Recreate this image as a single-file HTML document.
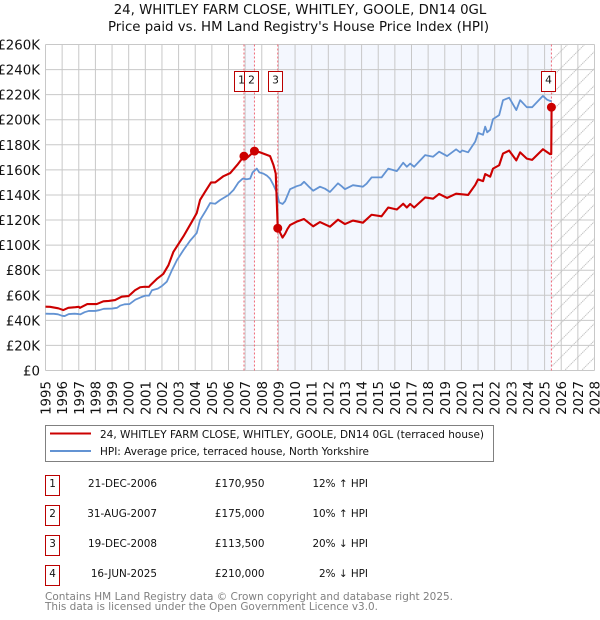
<!DOCTYPE html>
<html>
<head>
<meta charset="utf-8">
<title>24, WHITLEY FARM CLOSE - Price paid vs HPI</title>
<style>
html,body{margin:0;padding:0;background:#fff;width:600px;height:620px;overflow:hidden}
svg{display:block;font-family:"DejaVu Sans","Liberation Sans",sans-serif}
</style>
</head>
<body>
<svg id="chart" xmlns="http://www.w3.org/2000/svg" width="600" height="620" viewBox="0 0 600 620">
  <defs>
    <pattern id="hatch" width="17" height="17" patternUnits="userSpaceOnUse">
      <path d="M0 17L17 0M-2 2L2 -2M15 19L19 15" stroke="#c4c4c4" stroke-width="1" stroke-dasharray="1.4 0.6" fill="none"/>
    </pattern>
  </defs>
  <text x="300" y="14" text-anchor="middle" font-size="13.33" fill="#111">24, WHITLEY FARM CLOSE, WHITLEY, GOOLE, DN14 0GL</text>
  <text x="298.5" y="31" text-anchor="middle" font-size="13.33" fill="#111">Price paid vs. HM Land Registry's House Price Index (HPI)</text>
  <g id="shading"></g>
  <g id="grid"></g>
  <g id="yticks"></g>
  <g id="xticks"></g>
  <g id="saleLines"></g>
  <path id="hpiLine" fill="none" stroke="#6393d3" stroke-width="1.8" stroke-linejoin="round"></path>
  <path id="priceLine" fill="none" stroke="#cc0000" stroke-width="2.1" stroke-linejoin="round"></path>
  <g id="saleDots"></g>
  <g id="saleTags"></g>

  <g>
    <rect x="45.5" y="425.5" width="448" height="36" fill="#fff" stroke="#808080" stroke-width="1"/>
    <line x1="50" x2="91" y1="433.5" y2="433.5" stroke="#cc0000" stroke-width="2"/>
    <text x="100" y="438" font-size="10.67" fill="#111" textLength="384" lengthAdjust="spacingAndGlyphs">24, WHITLEY FARM CLOSE, WHITLEY, GOOLE, DN14 0GL (terraced house)</text>
    <line x1="50" x2="91" y1="451" y2="451" stroke="#6393d3" stroke-width="2"/>
    <text x="100" y="455" font-size="10.67" fill="#111" textLength="269" lengthAdjust="spacingAndGlyphs">HPI: Average price, terraced house, North Yorkshire</text>
  </g>

  <g font-size="10.4" fill="#111">
    <g>
      <rect x="45.5" y="475.5" width="14" height="20" fill="#fff" stroke="#bb0000"/>
      <text x="52.5" y="487" text-anchor="middle">1</text>
      <text x="157" y="487" text-anchor="end">21-DEC-2006</text>
      <text x="264.5" y="487" text-anchor="end">£170,950</text>
      <text x="368" y="487" text-anchor="end">12% ↑ HPI</text>
    </g>
    <g>
      <rect x="45.5" y="505.5" width="14" height="20" fill="#fff" stroke="#bb0000"/>
      <text x="52.5" y="517" text-anchor="middle">2</text>
      <text x="157" y="517" text-anchor="end">31-AUG-2007</text>
      <text x="264.5" y="517" text-anchor="end">£175,000</text>
      <text x="368" y="517" text-anchor="end">10% ↑ HPI</text>
    </g>
    <g>
      <rect x="45.5" y="535.5" width="14" height="20" fill="#fff" stroke="#bb0000"/>
      <text x="52.5" y="547" text-anchor="middle">3</text>
      <text x="157" y="547" text-anchor="end">19-DEC-2008</text>
      <text x="264.5" y="547" text-anchor="end">£113,500</text>
      <text x="368" y="547" text-anchor="end">20% ↓ HPI</text>
    </g>
    <g>
      <rect x="45.5" y="565.5" width="14" height="20" fill="#fff" stroke="#bb0000"/>
      <text x="52.5" y="577" text-anchor="middle">4</text>
      <text x="157" y="577" text-anchor="end">16-JUN-2025</text>
      <text x="264.5" y="577" text-anchor="end">£210,000</text>
      <text x="368" y="577" text-anchor="end">2% ↓ HPI</text>
    </g>
  </g>

  <text x="45" y="600" font-size="11" fill="#808080" textLength="408" lengthAdjust="spacingAndGlyphs">Contains HM Land Registry data © Crown copyright and database right 2025.</text>
  <text x="45" y="610" font-size="11" fill="#808080" textLength="333" lengthAdjust="spacingAndGlyphs">This data is licensed under the Open Government Licence v3.0.</text>
</svg>
<script>
const yTickValues = [0,20,40,60,80,100,120,140,160,180,200,220,240,260];
const xTickYears = [1995,1996,1997,1998,1999,2000,2001,2002,2003,2004,2005,2006,2007,2008,2009,2010,2011,2012,2013,2014,2015,2016,2017,2018,2019,2020,2021,2022,2023,2024,2025,2026,2027,2028];

const hpiYears = [1995,1995.25,1995.5,1995.75,1996,1996.15,1996.4,1996.75,1997,1997.1,1997.35,1997.6,1998,1998.25,1998.5,1999,1999.3,1999.5,1999.75,2000.05,2000.4,2000.75,2001,2001.22,2001.4,2001.75,2002,2002.29,2002.6,2002.9,2003.29,2003.69,2004.09,2004.29,2004.6,2004.9,2005.2,2005.5,2005.75,2006,2006.3,2006.6,2006.85,2007.1,2007.3,2007.45,2007.7,2007.85,2008.1,2008.3,2008.5,2008.7,2008.9,2009.05,2009.25,2009.4,2009.7,2010.1,2010.35,2010.54,2010.8,2011.09,2011.5,2011.8,2012.1,2012.58,2012.8,2013,2013.48,2014.08,2014.3,2014.6,2015.2,2015.6,2016.12,2016.5,2016.72,2016.92,2017.16,2017.82,2018.3,2018.66,2019.14,2019.68,2019.92,2020.05,2020.4,2020.83,2021,2021.3,2021.43,2021.55,2021.73,2021.9,2022.27,2022.5,2022.87,2023.3,2023.53,2023.93,2024.25,2024.9,2025.15,2025.33,2025.42];
const hpiValues = [45.3,45.2,45.2,44.8,43.6,43.4,45,45.3,45,44.8,46.5,47.5,47.5,48.2,49.2,49.4,50,51.8,52.8,53,56.5,58.5,59.7,59.7,64,65.3,67.4,70.8,80,88,96,103.5,109.6,120,126.7,133.6,133,136,138,140,144,150,153,152.5,153,158,161,158,157,155.5,153,148,142,134,132.8,135,144.6,147,148,150.5,147,143.4,146.6,145,142.4,149.3,147,144.6,147.8,146.6,149,154,154,161,159,165.7,162.5,165,162.5,171.8,170.5,174.5,171,176.4,174,175.5,174,182.5,189.5,188,194.5,190,192,200.5,203.7,215.6,217.6,207.7,215.6,210,210,219,216,215,215];

const priceYears = [1995,1995.27,1995.77,1996.07,1996.37,1996.8,1997,1997.07,1997.51,1998.08,1998.48,1998.8,1999.18,1999.58,2000,2000.38,2000.69,2000.95,2001.22,2001.3,2001.69,2002.08,2002.39,2002.69,2003.29,2003.8,2004.09,2004.29,2004.6,2004.95,2005.2,2005.7,2006.1,2006.53,2006.93,2007.15,2007.56,2007.9,2008.2,2008.5,2008.7,2008.84,2008.96,2009.25,2009.4,2009.55,2009.7,2010.1,2010.54,2011.09,2011.5,2012.1,2012.58,2013,2013.48,2014.08,2014.6,2015.2,2015.6,2016.12,2016.5,2016.72,2016.92,2017.16,2017.82,2018.3,2018.66,2019.14,2019.68,2020.4,2020.83,2021,2021.3,2021.43,2021.73,2021.9,2022.27,2022.5,2022.87,2023.3,2023.53,2023.93,2024.25,2024.9,2025.33,2025.4,2025.42];
const priceValues = [50.9,50.8,49.6,48.2,50,50.5,50.8,50,53,53,55.2,55.5,56.2,58.9,59.4,64,66.4,66.8,66.7,68,73,77,84,94.7,107,118.7,125.5,136,142.7,150,150,155,157.4,164,171,170,175,174,172.5,171,164,157,113.5,106,109,113,116,118.7,120.8,115,118.4,114.7,120.3,116.8,119.6,117.9,124.2,123,130,128.4,133,130,132.8,130,138,137,140.8,137.6,141,140,148,152.4,151,156.7,154.6,161,163.7,173,175.4,167.6,174,169,168,176.5,172.6,172.6,210];

const saleYears = [2006.93,2007.56,2008.96,2025.41];
const saleValues = [170.95,175,113.5,210];
const saleLabels = ['1','2','3','4'];

const NS = 'http://www.w3.org/2000/svg';
const plotLeft = 45.5, plotRight = 594.5, plotTop = 44.5, plotBottom = 370.5;
function xScale(year){ return plotLeft + (year - 1995) / (2028 - 1995) * (plotRight - plotLeft); }
function yScale(k){ return plotBottom - k / 260 * (plotBottom - plotTop); }
function make(parent, tag, attrs){
  const el = document.createElementNS(NS, tag);
  for (const k in attrs) el.setAttribute(k, attrs[k]);
  document.getElementById(parent).appendChild(el);
  return el;
}
function pathFrom(xs, ys){
  return xs.map(function(v, i){ return (i ? 'L' : 'M') + xScale(v).toFixed(2) + ' ' + yScale(ys[i]).toFixed(2); }).join('');
}

let shadeA = make('shading', 'rect', {x: xScale(saleYears[0]) + 1.5, y: plotTop, width: xScale(saleYears[1]) - xScale(saleYears[0]) - 1.5, height: plotBottom - plotTop, fill: '#f4f7fe'});


let shadeB = make('shading', 'rect', {x: xScale(saleYears[2]), y: plotTop, width: xScale(saleYears[3]) - xScale(saleYears[2]), height: plotBottom - plotTop, fill: '#f4f7fe'});


let hatch = make('shading', 'rect', {x: xScale(saleYears[3]), y: plotTop, width: plotRight - xScale(saleYears[3]), height: plotBottom - plotTop, fill: 'url(#hatch)'});



yTickValues.forEach(function(v){
  const g = make('grid', 'line', {x1: plotLeft, x2: plotRight, y1: yScale(v), y2: yScale(v), stroke: '#c8c8c8', 'stroke-width': 1});
  
  
  const t = make('yticks', 'text', {x: 40, y: yScale(v) + 5, 'text-anchor': 'end', 'font-size': 13.33, fill: '#111'});
  
  
  t.textContent = v === 0 ? '£0' : '£' + v + 'K';
});
xTickYears.forEach(function(y){
  const g = make('grid', 'line', {x1: xScale(y), x2: xScale(y), y1: plotTop, y2: plotBottom, stroke: '#c8c8c8', 'stroke-width': 1});
  
  
  const tx = xScale(y) + 5;
  const t = make('xticks', 'text', {x: tx, y: 381, 'text-anchor': 'end', 'font-size': 13.33, fill: '#111', transform: 'rotate(-90 ' + tx + ' 381)'});
  
  
  t.textContent = y;
});
saleYears.forEach(function(y, i){
  const x = xScale(y);
  const l = make('saleLines', 'line', {x1: x, x2: x, y1: plotTop, y2: plotBottom, stroke: '#f06a78', 'stroke-width': 1, 'stroke-dasharray': '2 2'});
  
  
  const d = make('saleDots', 'circle', {cx: x, cy: yScale(saleValues[i]), r: 4.5, fill: '#cc0000'});
  
  
  const r = make('saleTags', 'rect', {x: Math.round(x - 10) + 0.5, y: 71.5, width: 14, height: 20, fill: '#fff', stroke: '#bb0000', 'stroke-width': 1});
  
  
  const t = make('saleTags', 'text', {x: Math.round(x - 10) + 7.5, y: 83.5, 'text-anchor': 'middle', 'font-size': 10.67, fill: '#111'});
  
  
  t.textContent = saleLabels[i];
});
document.getElementById('hpiLine').setAttribute('d', pathFrom(hpiYears, hpiValues));
document.getElementById('priceLine').setAttribute('d', pathFrom(priceYears, priceValues));
</script>
</body>
</html>
